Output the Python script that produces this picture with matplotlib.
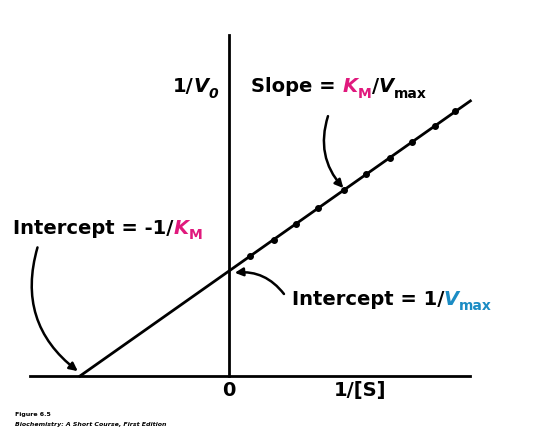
import matplotlib
matplotlib.use("Agg")
import matplotlib.pyplot as plt

inv_S = [0.14, 0.30, 0.45, 0.60, 0.77, 0.92, 1.08, 1.23, 1.38, 1.52]
KM = 1.0
Vmax = 1.0
inv_V = [1/Vmax + (KM/Vmax)*x for x in inv_S]
x_line = [-1/KM, 1.62]
y_line = [1/Vmax + (KM/Vmax)*x for x in x_line]

MAG = '#e0197d'
BLU = '#1b8cc4'
FAM = ['DejaVu Sans']
plt.rcParams['font.family'] = FAM

fig = plt.figure(figsize=(5.33, 4.34), dpi=100)
ax = fig.add_axes([0, 0, 1, 1])
ax.set_xlim(-229/149, (533-229)/149)
ax.set_ylim(-58/105, 376/105)
ax.axis('off')

ax.plot([-199/149, 241/149], [0, 0], color='black', lw=2)
ax.plot([0, 0], [0, 341/105], color='black', lw=2)
ax.plot(x_line, y_line, color='black', lw=2)
ax.plot(inv_S, inv_V, 'o', color='black', ms=4)

fs = 14
sub = 10
kw = dict(fontsize=fs, fontweight='bold')

def chain(parts, x, y):
    t = ax.text(x, y, parts[0][0], color=parts[0][1], va='baseline', ha='left', **kw)
    for p in parts[1:]:
        size = p[3] if len(p) > 3 else fs
        dy = p[4] if len(p) > 4 else 0
        t = ax.annotate(p[0], xy=(1, 0), xycoords=t, xytext=(0, dy), textcoords='offset points',
                        color=p[1], va='bottom', ha='left', style=p[2] if len(p) > 2 else 'normal',
                        fontsize=size, fontweight='bold')
    return t

chain([('1/', 'black'), ('V', 'black', 'italic'), ('0', 'black', 'italic', sub, -3)],
      -0.38, 2.7)
chain([('Slope = ', 'black'), ('K', MAG, 'italic'), ('M', MAG, 'normal', sub, -3),
       ('/', 'black', 'normal', fs, 3), ('V', 'black', 'italic'), ('max', 'black', 'normal', sub, -3)],
      0.15, 2.7)
chain([('Intercept = -1/', 'black'), ('K', MAG, 'italic'), ('M', MAG, 'normal', sub, -3)],
      -1.45, 1.35)
chain([('Intercept = 1/', 'black'), ('V', BLU, 'italic'), ('max', BLU, 'normal', sub, -3)],
      0.42, 0.68)

ax.text(0, -0.19, '0', ha='center', va='baseline', **kw)
ax.text(0.88, -0.19, '1/[S]', ha='center', va='baseline', **kw)

arr = dict(arrowstyle='-|>', color='black', lw=1.8, mutation_scale=12)
ax.annotate('', xy=(0.78, 1.77), xytext=(0.67, 2.5),
            arrowprops=dict(connectionstyle='arc3,rad=0.3', **arr))
ax.annotate('', xy=(-1.0, 0.03), xytext=(-1.28, 1.25),
            arrowprops=dict(connectionstyle='arc3,rad=0.35', **arr))
ax.annotate('', xy=(0.02, 0.98), xytext=(0.38, 0.76),
            arrowprops=dict(connectionstyle='arc3,rad=0.3', **arr))

fig.text(15/533, 1-416/434, 'Figure 6.5', fontsize=4.5, fontweight='bold')
fig.text(15/533, 1-426/434, 'Biochemistry: A Short Course, First Edition', fontsize=4.5,
         fontweight='bold', style='italic')

fig.savefig('out.png', dpi=100)
